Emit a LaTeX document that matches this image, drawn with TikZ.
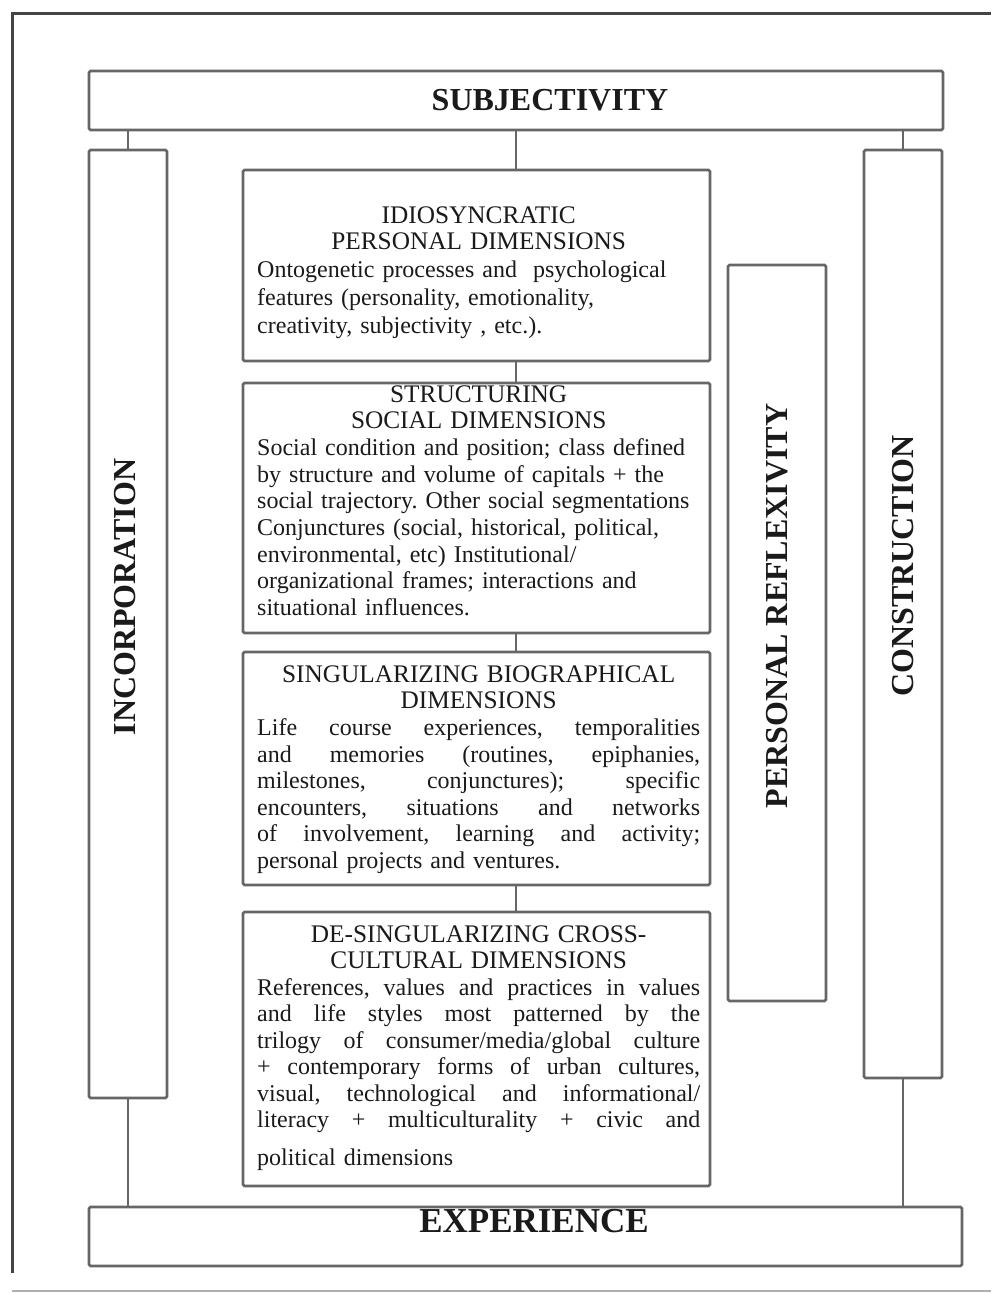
\documentclass[tikz,border=0pt]{standalone}
\usepackage{fontspec}
\setmainfont{Liberation Serif}
\definecolor{edge}{HTML}{666666}
\definecolor{ink}{HTML}{1A1A1A}
\definecolor{framedark}{HTML}{444444}
\definecolor{framelight}{HTML}{B0B0B0}
\newcommand{\jline}[1]{\leavevmode\hbox to 443pt{#1}}
\newcommand{\jg}{\hskip 6pt plus 1fil\relax}
\newcommand{\hd}{\fontsize{25.3}{26.6}\selectfont}
\frenchspacing
\begin{document}
\begin{tikzpicture}[x=1pt,y=-1pt,
  bx/.style={draw=edge, line width=2.6pt, rounded corners=1.5pt, inner sep=0pt, outer sep=0pt, fill=white},
  link/.style={draw=edge, line width=2.6pt},
  title/.style={font=\fontsize{32}{36}\selectfont\bfseries, text=ink, inner sep=0pt},
  sidelabel/.style={title, rotate=90},
  body/.style={anchor=north west, inner sep=0pt, text width=443pt, text=ink}]
\useasboundingbox (0,0) rectangle (991,1293);
\fill[white] (0,0) rectangle (991,1293);
% outer frame
\draw[line width=3pt, framedark] (12,1273) -- (12,13) -- (991,13);
\draw[line width=2pt, framelight] (12,1291) -- (991,1291);

% boxes
\node[bx, minimum width=854pt, minimum height=59pt] (subj) at (516,100.5) {};
\node[bx, minimum width=873pt, minimum height=59pt] (exp) at (525.5,1236.5) {};
\node[bx, minimum width=78pt, minimum height=948pt] (incorp) at (128,624) {};
\node[bx, minimum width=78pt, minimum height=928pt] (constr) at (903,614) {};
\node[bx, minimum width=98pt, minimum height=736pt] (refl) at (777,633) {};
\node[bx, minimum width=467pt, minimum height=191pt] (b1) at (476.5,265.5) {};
\node[bx, minimum width=467pt, minimum height=250pt] (b2) at (476.5,508) {};
\node[bx, minimum width=467pt, minimum height=233pt] (b3) at (476.5,768.5) {};
\node[bx, minimum width=467pt, minimum height=274pt] (b4) at (476.5,1049) {};

% connectors
\draw[link] (subj.south) -- (subj.south |- b1.north);
\draw[link] (b1.south -| subj.south) -- (b2.north -| subj.south);
\draw[link] (b2.south -| subj.south) -- (b3.north -| subj.south);
\draw[link] (b3.south -| subj.south) -- (b4.north -| subj.south);
\draw[link] (incorp.north) -- (incorp.north |- subj.south);
\draw[link] (constr.north) -- (constr.north |- subj.south);
\draw[link] (incorp.south) -- (incorp.south |- exp.north);
\draw[link] (constr.south) -- (constr.south |- exp.north);

% titles
\node[title] (subjT) at (550,100) {SUBJECTIVITY};
\node[title, font=\fontsize{35}{40}\selectfont\bfseries] (expT) at (534,1221) {EXPERIENCE};
\node[sidelabel] (incT) at (125,597) {INCORPORATION};
\node[sidelabel] (reflT) at (777,606) {PERSONAL REFLEXIVITY};
\node[sidelabel] (conT) at (903,566) {CONSTRUCTION};

% box texts
\node[body, font=\fontsize{24}{28}\selectfont] (t1) at (257,204.4) {%
{\centering\hd\strut IDIOSYNCRATIC\\PERSONAL DIMENSIONS\par}
Ontogenetic processes and\ \ psychological\\
features (personality, emotionality,\\
creativity, subjectivity , etc.).};

\node[body, font=\fontsize{24}{26.7}\selectfont] (t2) at (257,383.3) {%
{\centering\hd\strut STRUCTURING\\SOCIAL DIMENSIONS\par}
Social condition and position; class defined\\
by structure and volume of capitals + the\\
social trajectory. Other social segmentations\\
Conjunctures (social, historical, political,\\
environmental, etc) Institutional/\\
organizational frames; interactions and\\
situational influences.};

\node[body, font=\fontsize{24}{26.6}\selectfont] (t3) at (257,663.4) {%
{\centering\hd\strut SINGULARIZING BIOGRAPHICAL\\DIMENSIONS\par}
\jline{Life\jg course\jg experiences,\jg temporalities}\\
\jline{and\jg memories\jg (routines,\jg epiphanies,}\\
\jline{milestones,\jg conjunctures);\jg specific}\\
\jline{encounters,\jg situations\jg and\jg networks}\\
\jline{of\jg involvement,\jg learning\jg and\jg activity;}\\
personal projects and ventures.};

\node[body, font=\fontsize{24}{26.5}\selectfont] (t4) at (257,923.4) {%
{\centering\hd\strut DE-SINGULARIZING CROSS-\\CULTURAL DIMENSIONS\par}
\jline{References,\jg values\jg and\jg practices\jg in\jg values}\\
\jline{and\jg life\jg styles\jg most\jg patterned\jg by\jg the}\\
\jline{trilogy\jg of\jg consumer/media/global\jg culture}\\
\jline{+\jg contemporary\jg forms\jg of\jg urban\jg cultures,}\\
\jline{visual,\jg technological\jg and\jg informational/}\\
\jline{literacy\jg +\jg multiculturality\jg +\jg civic\jg and}\\[11pt]
political dimensions};
\end{tikzpicture}
\end{document}
